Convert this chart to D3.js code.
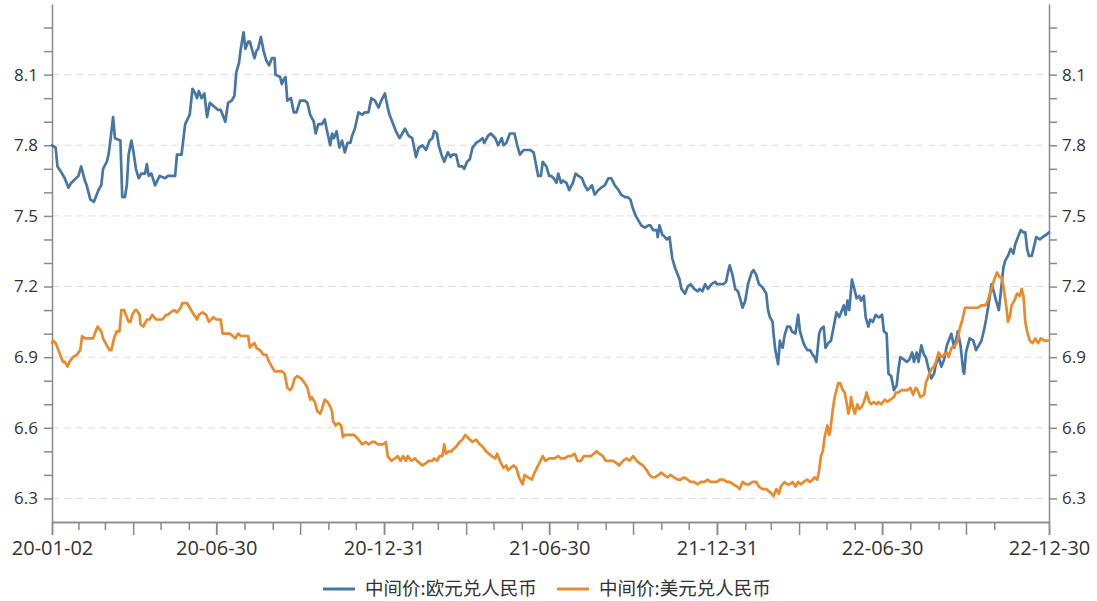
<!DOCTYPE html>
<html>
<head>
<meta charset="utf-8">
<script src="https://cdn.jsdelivr.net/npm/d3@7"></script>
<style>
body { margin: 0; background: #fff; }
svg { display: block; }
</style>
</head>
<body>
<svg id="chart" width="1097" height="601"></svg>
<script>
// 中间价:欧元兑人民币
var eurDates = [
  "20-01-02","20-01-06","20-01-08","20-01-13","20-01-16","20-01-20","20-01-23","20-01-31",
  "20-02-03","20-02-07","20-02-09","20-02-13","20-02-17","20-02-22","20-02-25","20-02-27",
  "20-03-02","20-03-04","20-03-06","20-03-09","20-03-11","20-03-17","20-03-18","20-03-19",
  "20-03-22","20-03-24","20-03-26","20-03-29","20-03-31","20-04-03","20-04-06","20-04-09",
  "20-04-13","20-04-15","20-04-17","20-04-20","20-04-24","20-04-29","20-05-05","20-05-08",
  "20-05-12","20-05-16","20-05-18","20-05-23","20-05-27","20-06-01","20-06-04","20-06-07",
  "20-06-09","20-06-11","20-06-14","20-06-17","20-06-20","20-06-23","20-06-29","20-07-02",
  "20-07-05","20-07-10","20-07-13","20-07-17","20-07-20","20-07-22","20-07-25","20-07-27",
  "20-07-30","20-08-01","20-08-04","20-08-06","20-08-08","20-08-11","20-08-13","20-08-15",
  "20-08-18","20-08-21","20-08-24","20-08-27","20-08-30","20-09-02","20-09-03","20-09-08",
  "20-09-10","20-09-12","20-09-14","20-09-16","20-09-20","20-09-23","20-09-26","20-09-30",
  "20-10-05","20-10-08","20-10-11","20-10-15","20-10-17","20-10-20","20-10-24","20-10-27",
  "20-10-29","20-11-02","20-11-04","20-11-06","20-11-09","20-11-12","20-11-15","20-11-18",
  "20-11-21","20-11-24","20-11-26","20-11-29","20-12-03","20-12-07","20-12-10","20-12-14",
  "20-12-17","20-12-21","20-12-25","20-12-28","21-01-01","21-01-04","21-01-06","21-01-10",
  "21-01-13","21-01-17","21-01-20","21-01-23","21-01-27","21-01-31","21-02-04","21-02-07",
  "21-02-11","21-02-15","21-02-19","21-02-22","21-02-24","21-02-27","21-03-01","21-03-04",
  "21-03-07","21-03-11","21-03-14","21-03-16","21-03-20","21-03-23","21-03-27","21-03-29",
  "21-04-01","21-04-04","21-04-07","21-04-11","21-04-15","21-04-18","21-04-20","21-04-24",
  "21-04-27","21-05-02","21-05-05","21-05-09","21-05-11","21-05-14","21-05-18","21-05-21",
  "21-05-23","21-05-26","21-05-29","21-06-02","21-06-05","21-06-09","21-06-13","21-06-15",
  "21-06-18","21-06-21","21-06-23","21-06-27","21-06-30","21-07-02","21-07-05","21-07-08",
  "21-07-10","21-07-13","21-07-15","21-07-19","21-07-22","21-07-26","21-07-29","21-08-01",
  "21-08-05","21-08-08","21-08-11","21-08-14","21-08-16","21-08-19","21-08-23","21-08-26",
  "21-08-30","21-09-03","21-09-06","21-09-10","21-09-14","21-09-17","21-09-21","21-09-24",
  "21-09-27","21-09-30","21-10-03","21-10-06","21-10-09","21-10-13","21-10-17","21-10-19",
  "21-10-22","21-10-26","21-10-27","21-10-29","21-11-01","21-11-04","21-11-06","21-11-09",
  "21-11-12","21-11-15","21-11-18","21-11-20","21-11-22","21-11-26","21-11-29","21-12-02",
  "21-12-06","21-12-10","21-12-12","21-12-15","21-12-18","21-12-21","21-12-25","21-12-29",
  "21-12-31","22-01-03","22-01-07","22-01-10","22-01-12","22-01-14","22-01-17","22-01-20",
  "22-01-23","22-01-26","22-01-28","22-01-31","22-02-03","22-02-07","22-02-09","22-02-12",
  "22-02-15","22-02-18","22-02-20","22-02-23","22-02-25","22-02-27","22-03-02","22-03-03",
  "22-03-05","22-03-08","22-03-10","22-03-11","22-03-13","22-03-15","22-03-18","22-03-21",
  "22-03-23","22-03-27","22-03-30","22-04-01","22-04-04","22-04-06","22-04-09","22-04-12",
  "22-04-15","22-04-17","22-04-19","22-04-22","22-04-24","22-04-27","22-04-29","22-05-02",
  "22-05-05","22-05-08","22-05-11","22-05-14","22-05-16","22-05-19","22-05-21","22-05-23",
  "22-05-25","22-05-28","22-05-30","22-06-02","22-06-05","22-06-07","22-06-10","22-06-12",
  "22-06-15","22-06-17","22-06-20","22-06-23","22-06-26","22-06-27","22-06-30","22-07-02",
  "22-07-05","22-07-07","22-07-10","22-07-13","22-07-16","22-07-18","22-07-20","22-07-24",
  "22-07-27","22-07-30","22-08-02","22-08-04","22-08-07","22-08-09","22-08-12","22-08-15",
  "22-08-17","22-08-20","22-08-23","22-08-26","22-08-28","22-08-31","22-09-03","22-09-06",
  "22-09-09","22-09-11","22-09-14","22-09-17","22-09-20","22-09-21","22-09-24","22-09-27",
  "22-09-28","22-09-30","22-10-04","22-10-08","22-10-11","22-10-14","22-10-17","22-10-20",
  "22-10-22","22-10-25","22-10-28","22-10-31","22-11-02","22-11-05","22-11-07","22-11-10",
  "22-11-12","22-11-15","22-11-18","22-11-21","22-11-23","22-11-26","22-11-29","22-12-02",
  "22-12-04","22-12-06","22-12-08","22-12-11","22-12-13","22-12-16","22-12-20","22-12-23",
  "22-12-27","22-12-30"
];
var eurValues = [
  7.80,7.79,7.71,7.68,7.66,7.62,7.64,7.67,
  7.71,7.65,7.63,7.57,7.56,7.61,7.63,7.70,
  7.73,7.76,7.82,7.92,7.83,7.82,7.70,7.58,
  7.58,7.63,7.76,7.82,7.78,7.70,7.66,7.68,
  7.68,7.72,7.67,7.68,7.63,7.67,7.66,7.67,
  7.67,7.67,7.76,7.76,7.89,7.93,8.04,8.02,
  8.00,8.03,8.00,8.02,7.92,7.98,7.96,7.95,
  7.95,7.90,7.98,7.99,8.01,8.11,8.15,8.21,
  8.28,8.21,8.24,8.24,8.21,8.17,8.20,8.21,
  8.26,8.20,8.16,8.14,8.17,8.17,8.10,8.09,
  8.06,8.08,8.09,7.99,8.00,7.94,7.94,7.99,
  7.99,7.98,7.93,7.90,7.85,7.89,7.89,7.91,
  7.87,7.80,7.85,7.83,7.86,7.79,7.82,7.77,
  7.81,7.81,7.84,7.87,7.94,7.93,7.94,7.94,
  8.00,7.99,7.96,7.99,8.02,7.96,7.93,7.89,
  7.86,7.83,7.85,7.87,7.84,7.83,7.75,7.79,
  7.80,7.78,7.82,7.83,7.86,7.85,7.80,7.76,
  7.73,7.77,7.75,7.76,7.76,7.71,7.71,7.70,
  7.73,7.74,7.79,7.81,7.82,7.83,7.81,7.84,
  7.85,7.83,7.80,7.83,7.80,7.81,7.85,7.85,
  7.85,7.80,7.76,7.78,7.78,7.78,7.77,7.73,
  7.67,7.67,7.73,7.71,7.67,7.67,7.66,7.64,
  7.68,7.64,7.65,7.64,7.61,7.64,7.68,7.67,
  7.66,7.63,7.61,7.62,7.63,7.59,7.61,7.62,
  7.63,7.66,7.66,7.63,7.61,7.59,7.58,7.58,
  7.57,7.53,7.50,7.48,7.46,7.45,7.46,7.46,
  7.44,7.44,7.41,7.46,7.42,7.41,7.40,7.41,
  7.32,7.28,7.25,7.23,7.19,7.17,7.20,7.21,
  7.19,7.18,7.19,7.18,7.21,7.19,7.21,7.22,
  7.21,7.21,7.21,7.22,7.26,7.29,7.25,7.19,
  7.18,7.14,7.11,7.14,7.21,7.26,7.27,7.25,
  7.21,7.20,7.19,7.17,7.10,7.07,7.05,7.00,
  6.93,6.87,6.97,6.95,6.94,6.99,7.03,7.03,
  7.01,7.00,7.08,7.01,6.97,6.95,6.93,6.93,
  6.91,6.90,6.88,7.00,7.02,7.03,6.94,6.96,
  6.97,7.03,7.09,7.07,7.09,7.12,7.08,7.14,
  7.10,7.23,7.20,7.15,7.16,7.14,7.16,7.07,
  7.03,7.06,7.05,7.08,7.07,7.07,7.08,7.01,
  7.00,6.83,6.82,6.76,6.78,6.85,6.90,6.89,
  6.88,6.89,6.92,6.88,6.92,6.88,6.95,6.91,
  6.90,6.85,6.81,6.83,6.87,6.90,6.86,6.89,
  6.95,6.97,7.00,6.94,6.99,7.01,6.95,6.84,
  6.83,6.92,6.98,6.97,6.93,6.95,6.97,7.02,
  7.06,7.13,7.21,7.17,7.14,7.10,7.17,7.28,
  7.31,7.33,7.36,7.34,7.38,7.41,7.44,7.43,
  7.43,7.36,7.33,7.33,7.36,7.41,7.40,7.41,
  7.42,7.43
];

// 中间价:美元兑人民币
var usdDates = [
  "20-01-02","20-01-03","20-01-06","20-01-09","20-01-11","20-01-14","20-01-16","20-01-19",
  "20-01-21","20-01-25","20-01-29","20-02-02","20-02-04","20-02-07","20-02-09","20-02-12",
  "20-02-16","20-02-19","20-02-21","20-02-25","20-02-27","20-03-02","20-03-05","20-03-07",
  "20-03-10","20-03-13","20-03-16","20-03-18","20-03-21","20-03-23","20-03-26","20-03-28",
  "20-03-30","20-04-02","20-04-04","20-04-07","20-04-08","20-04-11","20-04-15","20-04-18",
  "20-04-21","20-04-25","20-04-29","20-05-02","20-05-06","20-05-08","20-05-11","20-05-15",
  "20-05-18","20-05-22","20-05-24","20-05-27","20-05-29","20-06-01","20-06-04","20-06-09",
  "20-06-11","20-06-15","20-06-19","20-06-22","20-06-27","20-06-30","20-07-02","20-07-05",
  "20-07-07","20-07-11","20-07-15","20-07-18","20-07-21","20-07-24","20-07-27","20-07-31",
  "20-08-04","20-08-06","20-08-08","20-08-11","20-08-13","20-08-17","20-08-21","20-08-24",
  "20-08-27","20-08-30","20-09-02","20-09-06","20-09-10","20-09-13","20-09-16","20-09-19",
  "20-09-21","20-09-24","20-09-27","20-10-01","20-10-05","20-10-08","20-10-11","20-10-13",
  "20-10-16","20-10-19","20-10-22","20-10-24","20-10-27","20-10-30","20-11-02","20-11-04",
  "20-11-05","20-11-08","20-11-11","20-11-14","20-11-16","20-11-18","20-11-22","20-11-26",
  "20-11-28","20-12-01","20-12-03","20-12-07","20-12-11","20-12-14","20-12-18","20-12-21",
  "20-12-24","20-12-27","20-12-30","21-01-02","21-01-04","21-01-08","21-01-12","21-01-15",
  "21-01-18","21-01-21","21-01-24","21-01-26","21-01-30","21-02-03","21-02-05","21-02-08",
  "21-02-11","21-02-15","21-02-18","21-02-22","21-02-24","21-02-27","21-03-02","21-03-05",
  "21-03-07","21-03-09","21-03-12","21-03-15","21-03-17","21-03-20","21-03-24","21-03-27",
  "21-03-30","21-04-04","21-04-07","21-04-11","21-04-15","21-04-18","21-04-22","21-04-25",
  "21-04-28","21-05-02","21-05-04","21-05-07","21-05-11","21-05-14","21-05-16","21-05-19",
  "21-05-22","21-05-25","21-05-28","21-06-01","21-06-03","21-06-07","21-06-11","21-06-14",
  "21-06-18","21-06-23","21-06-26","21-06-30","21-07-03","21-07-06","21-07-10","21-07-13",
  "21-07-17","21-07-21","21-07-24","21-07-28","21-07-31","21-08-04","21-08-07","21-08-11",
  "21-08-15","21-08-18","21-08-21","21-08-24","21-08-28","21-08-31","21-09-04","21-09-08",
  "21-09-12","21-09-15","21-09-19","21-09-23","21-09-26","21-09-30","21-10-04","21-10-07",
  "21-10-11","21-10-15","21-10-18","21-10-21","21-10-24","21-10-28","21-10-31","21-11-03",
  "21-11-07","21-11-10","21-11-14","21-11-18","21-11-21","21-11-25","21-11-29","21-12-02",
  "21-12-06","21-12-10","21-12-13","21-12-17","21-12-21","21-12-24","21-12-28","21-12-31",
  "22-01-03","22-01-07","22-01-11","22-01-14","22-01-18","22-01-22","22-01-25","22-01-28",
  "22-02-01","22-02-04","22-02-08","22-02-12","22-02-15","22-02-19","22-02-23","22-02-26",
  "22-03-01","22-03-03","22-03-06","22-03-09","22-03-11","22-03-15","22-03-18","22-03-21",
  "22-03-24","22-03-27","22-03-30","22-04-02","22-04-05","22-04-09","22-04-12","22-04-15",
  "22-04-17","22-04-20","22-04-22","22-04-24","22-04-26","22-04-28","22-05-01","22-05-03",
  "22-05-04","22-05-07","22-05-09","22-05-11","22-05-13","22-05-15","22-05-18","22-05-20",
  "22-05-22","22-05-24","22-05-26","22-05-27","22-05-29","22-05-31","22-06-03","22-06-05",
  "22-06-08","22-06-11","22-06-13","22-06-16","22-06-18","22-06-21","22-06-24","22-06-26",
  "22-06-29","22-07-03","22-07-06","22-07-09","22-07-13","22-07-15","22-07-18","22-07-21",
  "22-07-25","22-07-28","22-07-31","22-08-03","22-08-06","22-08-08","22-08-11","22-08-15",
  "22-08-17","22-08-20","22-08-23","22-08-26","22-08-28","22-08-31","22-09-03","22-09-06",
  "22-09-09","22-09-11","22-09-14","22-09-18","22-09-21","22-09-23","22-09-26","22-09-29",
  "22-10-02","22-10-06","22-10-10","22-10-13","22-10-17","22-10-21","22-10-24","22-10-26",
  "22-10-28","22-10-31","22-11-03","22-11-06","22-11-08","22-11-10","22-11-13","22-11-15",
  "22-11-17","22-11-19","22-11-22","22-11-25","22-11-28","22-11-30","22-12-02","22-12-04",
  "22-12-06","22-12-09","22-12-12","22-12-15","22-12-18","22-12-21","22-12-25","22-12-29",
  "22-12-30"
];
var usdValues = [
  6.96,6.97,6.96,6.93,6.91,6.88,6.88,6.86,
  6.88,6.90,6.91,6.93,6.99,6.98,6.98,6.98,
  6.98,7.01,7.03,7.01,6.98,6.95,6.93,6.93,
  6.98,7.01,7.01,7.10,7.10,7.08,7.05,7.05,
  7.08,7.10,7.10,7.08,7.04,7.03,7.06,7.06,
  7.08,7.06,7.06,7.06,7.08,7.08,7.09,7.10,
  7.09,7.11,7.13,7.13,7.13,7.11,7.09,7.06,
  7.08,7.09,7.08,7.05,7.07,7.06,7.06,7.06,
  7.00,7.00,7.00,6.99,6.98,7.00,6.99,6.99,
  6.99,6.94,6.95,6.96,6.94,6.93,6.91,6.91,
  6.88,6.86,6.84,6.84,6.84,6.83,6.77,6.76,
  6.77,6.81,6.82,6.81,6.79,6.77,6.72,6.73,
  6.71,6.67,6.66,6.68,6.72,6.71,6.69,6.67,
  6.63,6.61,6.62,6.61,6.56,6.57,6.57,6.57,
  6.57,6.56,6.55,6.53,6.54,6.53,6.54,6.54,
  6.53,6.53,6.53,6.54,6.48,6.46,6.47,6.48,
  6.46,6.48,6.46,6.48,6.46,6.47,6.46,6.45,
  6.44,6.45,6.46,6.46,6.47,6.46,6.48,6.48,
  6.53,6.49,6.50,6.50,6.51,6.52,6.54,6.55,
  6.57,6.55,6.54,6.55,6.53,6.52,6.50,6.49,
  6.48,6.47,6.49,6.46,6.43,6.44,6.42,6.43,
  6.44,6.43,6.39,6.36,6.40,6.39,6.38,6.41,
  6.44,6.48,6.46,6.47,6.47,6.47,6.48,6.47,
  6.47,6.48,6.48,6.49,6.46,6.46,6.48,6.48,
  6.48,6.49,6.50,6.49,6.48,6.46,6.46,6.46,
  6.45,6.44,6.46,6.47,6.46,6.48,6.46,6.45,
  6.44,6.42,6.40,6.39,6.39,6.40,6.41,6.40,
  6.39,6.40,6.39,6.38,6.38,6.39,6.38,6.37,
  6.37,6.36,6.37,6.37,6.38,6.37,6.37,6.37,
  6.38,6.38,6.37,6.37,6.36,6.35,6.34,6.37,
  6.36,6.36,6.37,6.37,6.35,6.34,6.34,6.33,
  6.32,6.31,6.34,6.32,6.35,6.37,6.36,6.36,
  6.37,6.35,6.37,6.36,6.37,6.38,6.37,6.38,
  6.39,6.38,6.42,6.48,6.50,6.56,6.61,6.57,
  6.58,6.68,6.73,6.76,6.79,6.79,6.76,6.75,
  6.71,6.66,6.69,6.73,6.69,6.66,6.70,6.68,
  6.69,6.72,6.75,6.71,6.70,6.71,6.70,6.71,
  6.70,6.72,6.71,6.72,6.73,6.75,6.75,6.76,
  6.76,6.76,6.77,6.74,6.77,6.76,6.73,6.74,
  6.79,6.82,6.85,6.86,6.88,6.92,6.90,6.91,
  6.92,6.90,6.94,6.95,6.97,7.02,7.06,7.11,
  7.11,7.11,7.11,7.11,7.12,7.12,7.14,7.17,
  7.19,7.23,7.26,7.24,7.24,7.20,7.12,7.05,
  7.07,7.12,7.14,7.17,7.16,7.19,7.16,7.05,
  7.01,6.97,6.96,6.98,6.96,6.98,6.97,6.97,
  6.97
];

var yTicks = [6.3, 6.4, 6.5, 6.6, 6.7, 6.8, 6.9, 7.0, 7.1, 7.2, 7.3, 7.4, 7.5, 7.6, 7.7, 7.8, 7.9, 8.0, 8.1, 8.2, 8.3];
var yTickLabels = ["6.3", "6.6", "6.9", "7.2", "7.5", "7.8", "8.1"];
var xTickLabels = ["20-01-02", "20-06-30", "20-12-31", "21-06-30", "21-12-31", "22-06-30", "22-12-30"];
var legendNames = ["中间价:欧元兑人民币", "中间价:美元兑人民币"];
var colors = ["#4676a5", "#e98a2c"];

var parse = d3.timeParse("%y-%m-%d");
var svg = d3.select("#chart");

var x = d3.scaleTime()
    .domain([parse(xTickLabels[0]), parse(xTickLabels[xTickLabels.length - 1])])
    .range([52, 1049]);
var y = d3.scaleLinear()
    .domain([6.2, 8.4])
    .range([522, 4]);

// grid lines at the labelled values
svg.append("g").selectAll("line")
    .data(yTickLabels.map(Number))
    .enter().append("line")
    .attr("x1", 52).attr("x2", 1049)
    .attr("y1", function(d) { return y(d); })
    .attr("y2", function(d) { return y(d); })
    .attr("stroke", "#dcdcdc")
    .attr("stroke-width", 1)
    .attr("stroke-dasharray", "7,5");

function yFormat(d) {
    var s = d.toFixed(1);
    return yTickLabels.indexOf(s) >= 0 ? s : "";
}

function styleAxis(g, size) {
    g.attr("font-family", "'Open Sans', sans-serif");
    g.select(".domain").attr("stroke", "#8a8a8a").attr("stroke-width", 1.5);
    g.selectAll(".tick line").attr("stroke", "#8a8a8a").attr("stroke-width", 1.5);
    g.selectAll(".tick text").attr("fill", "#333").style("font-size", size + "px");
}

var left = svg.append("g")
    .attr("transform", "translate(52,0)")
    .call(d3.axisLeft(y).tickValues(yTicks).tickSize(8).tickSizeOuter(0).tickPadding(6).tickFormat(yFormat));
styleAxis(left, 17);

var right = svg.append("g")
    .attr("transform", "translate(1049,0)")
    .call(d3.axisRight(y).tickValues(yTicks).tickSize(8).tickSizeOuter(0).tickPadding(5).tickFormat(yFormat));
styleAxis(right, 17);

// month-end ticks on the x axis; quarter ends are longer
var monthEnds = d3.timeMonth.range(parse("20-02-01"), parse("22-12-01"))
    .map(function(m) { return d3.timeDay.offset(m, -1); });
var minorTicks = monthEnds.filter(function(d) { return (d.getMonth() + 1) % 3 !== 0; });
var majorTicks = [x.domain()[0]]
    .concat(monthEnds.filter(function(d) { return (d.getMonth() + 1) % 3 === 0; }))
    .concat([x.domain()[1]]);

var xMinor = svg.append("g")
    .attr("transform", "translate(0,522)")
    .call(d3.axisBottom(x).tickValues(minorTicks).tickSize(8).tickSizeOuter(0).tickFormat(""));
styleAxis(xMinor, 20);

var xMajor = svg.append("g")
    .attr("transform", "translate(0,522)")
    .call(d3.axisBottom(x).tickValues(majorTicks).tickSize(13).tickSizeOuter(0).tickFormat(""));
styleAxis(xMajor, 20);

var xLabels = svg.append("g")
    .attr("transform", "translate(0,522)")
    .call(d3.axisBottom(x).tickValues(xTickLabels.map(parse)).tickSize(13).tickSizeOuter(0)
        .tickPadding(6).tickFormat(d3.timeFormat("%y-%m-%d")));
styleAxis(xLabels, 20);
xLabels.select(".domain").remove();

// lines
var line = d3.line()
    .x(function(d) { return x(d[0]); })
    .y(function(d) { return y(d[1]); });

var series = [
    eurDates.map(function(d, i) { return [parse(d), eurValues[i]]; }),
    usdDates.map(function(d, i) { return [parse(d), usdValues[i]]; })
];

svg.append("g").selectAll("path")
    .data(series)
    .enter().append("path")
    .attr("d", line)
    .attr("fill", "none")
    .attr("stroke", function(d, i) { return colors[i]; })
    .attr("stroke-width", 2.7)
    .attr("stroke-linejoin", "round")
    .attr("stroke-linecap", "round");

// legend
var legendX = [323, 557];
var legend = svg.append("g").selectAll("g")
    .data(legendNames)
    .enter().append("g")
    .attr("transform", function(d, i) { return "translate(" + legendX[i] + ",589)"; });
legend.append("line")
    .attr("x1", 0).attr("x2", 32)
    .attr("stroke", function(d, i) { return colors[i]; })
    .attr("stroke-width", 3);
legend.append("text")
    .attr("x", 42)
    .attr("dy", "0.35em")
    .attr("fill", "#333")
    .style("font-family", "'Noto Sans CJK SC', sans-serif")
    .style("font-size", "18.5px")
    .text(function(d) { return d; });
</script>
</body>
</html>
